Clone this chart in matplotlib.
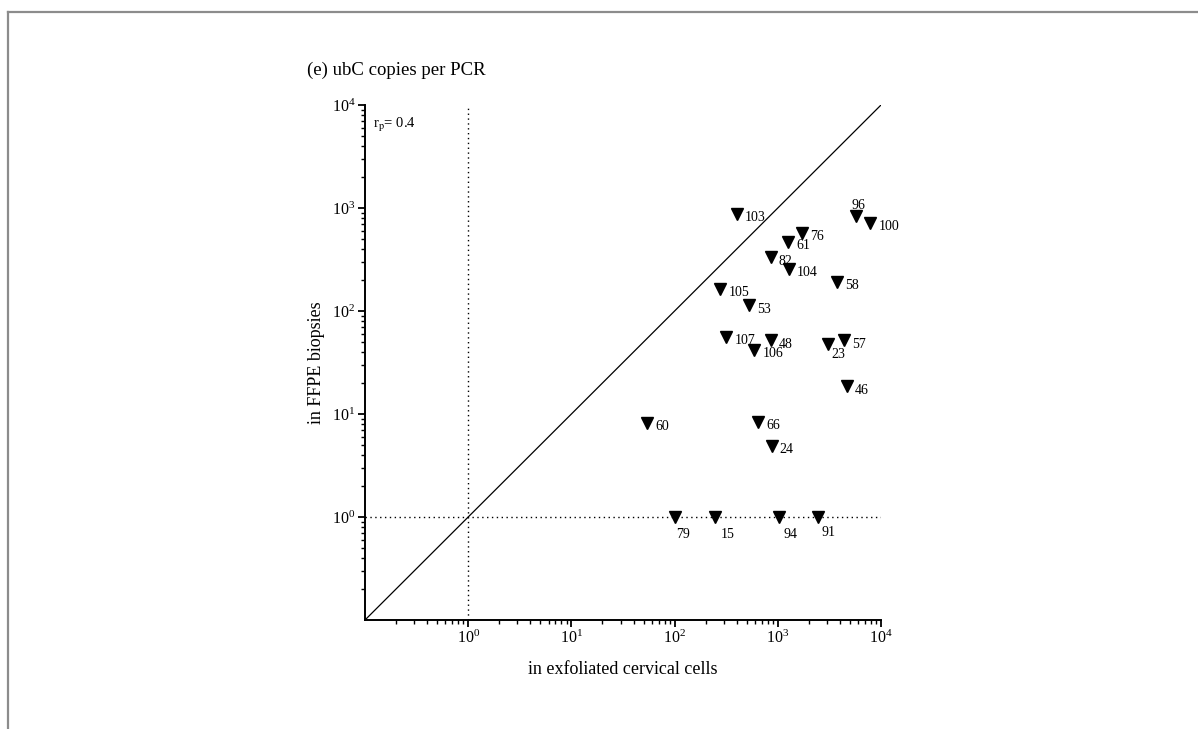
import numpy as np
import matplotlib.pyplot as plt
from matplotlib.lines import Line2D
from matplotlib.ticker import LogLocator, NullFormatter

plt.rcParams['font.family'] = ['Liberation Serif', 'DejaVu Serif']
plt.rcParams['mathtext.fontset'] = 'stix'

# sample ids and ubC copies per PCR
sample_ids = [103, 96, 100, 76, 61, 82, 104, 58, 105, 53, 107, 48, 106,
              23, 57, 46, 60, 66, 24, 79, 15, 94, 91]
cells_copies = [403, 5770, 7890, 1706, 1256, 855, 1277, 3720, 278, 527, 318,
                861, 593, 3090, 4415, 4690, 54, 644, 874, 100, 247, 1028, 2437]
ffpe_copies = [880, 830, 720, 576, 468, 334, 258, 193, 165, 114, 56, 52, 42,
               48, 52, 18.6, 8.2, 8.4, 4.9, 1, 1, 1, 1]

axis_min, axis_max = 0.1, 1e4
r_p = 0.4

# label placement in pixels (x, y up), default is right / slightly below
label_offsets = {96: (2, 11, 'center'), 23: (3, -11, 'left'),
                 79: (8, -17, 'center'), 15: (13, -17, 'center'),
                 94: (11, -17, 'center'), 91: (11, -16, 'center')}

fig = plt.figure(figsize=(11.98, 7.29), dpi=100)
ax = fig.add_axes([365 / 1198, 1 - 620 / 729, 516 / 1198, 515 / 729])

ax.set_xscale('log')
ax.set_yscale('log')
ax.set_xlim(axis_min, axis_max)
ax.set_ylim(axis_min, axis_max)

ax.plot([axis_min, axis_max], [axis_min, axis_max], color='black', lw=0.9)
ax.plot([1, 1], [axis_min, axis_max], color='black', lw=1.0, ls=(0, (1, 2.5)))
ax.plot([axis_min, axis_max], [1, 1], color='black', lw=1.0, ls=(0, (1, 2.5)))

ax.plot(cells_copies, ffpe_copies, linestyle='none', marker='v',
        markersize=8.5, color='black', clip_on=False, zorder=3)

for sid, x, y in zip(sample_ids, cells_copies, ffpe_copies):
    dx, dy, ha = label_offsets.get(sid, (8, -4, 'left'))
    ax.annotate(str(sid), (x, y), xytext=(dx, dy), textcoords='offset pixels',
                ha=ha, va='center', fontsize=10)

ax.text(0.015, 0.962, r'r$_\mathrm{p}$= ' + str(r_p), transform=ax.transAxes,
        fontsize=10.5, ha='left', va='center')

for side in ('top', 'right'):
    ax.spines[side].set_visible(False)
for side in ('left', 'bottom'):
    ax.spines[side].set_linewidth(1.4)

ax.xaxis.set_major_locator(LogLocator(base=10, numticks=10))
ax.yaxis.set_major_locator(LogLocator(base=10, numticks=10))
ax.xaxis.set_minor_locator(LogLocator(base=10, subs=np.arange(2, 10), numticks=10))
ax.yaxis.set_minor_locator(LogLocator(base=10, subs=np.arange(2, 10), numticks=10))
ax.xaxis.set_minor_formatter(NullFormatter())
ax.yaxis.set_minor_formatter(NullFormatter())
ax.set_xticks([1, 10, 100, 1000, 10000])
ax.set_yticks([1, 10, 100, 1000, 10000])
ax.tick_params(which='major', length=5, width=1.3, labelsize=11.5, pad=2)
ax.tick_params(which='minor', length=3, width=1.0)

ax.set_xlabel('in exfoliated cervical cells', fontsize=13, labelpad=10)
ax.set_ylabel('in FFPE biopsies', fontsize=13, labelpad=5)

fig.text(307 / 1198, 1 - 70 / 729, '(e) ubC copies per PCR', fontsize=13.5,
         ha='left', va='center')

# grey frame of the panel (top and left edges)
fig.add_artist(Line2D([7.5 / 1198, 1], [1 - 11.5 / 729] * 2,
                      transform=fig.transFigure, color='#8c8c8c', lw=1.6))
fig.add_artist(Line2D([7.5 / 1198] * 2, [0, 1 - 11.5 / 729],
                      transform=fig.transFigure, color='#8c8c8c', lw=1.6))

fig.savefig('out.png', dpi=100)
